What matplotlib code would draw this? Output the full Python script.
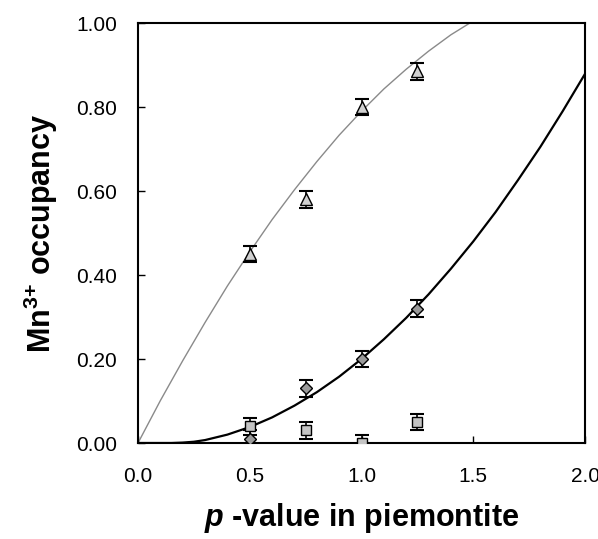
import matplotlib
matplotlib.use('Agg')
import matplotlib.pyplot as plt
from matplotlib.ticker import FormatStrFormatter

plt.rcParams['font.family'] = ['Liberation Sans', 'DejaVu Sans']
plt.rcParams['mathtext.fontset'] = 'custom'
plt.rcParams['mathtext.rm'] = 'Liberation Sans'
plt.rcParams['mathtext.bf'] = 'Liberation Sans:bold'
plt.rcParams['mathtext.it'] = 'Liberation Sans:italic'
plt.rcParams['mathtext.bfit'] = 'Liberation Sans:bold:italic'

# measured occupancies
p_values = [0.5, 0.75, 1.0, 1.25]
tri_y = [0.45, 0.58, 0.80, 0.885]
dia_y = [0.01, 0.13, 0.20, 0.32]
sq_y = [0.04, 0.03, 0.00, 0.05]
err = [0.02, 0.02, 0.02, 0.02]

# model curves
gray_x = [0.0, 0.1, 0.2, 0.3, 0.4, 0.5, 0.6, 0.7, 0.8, 0.9, 1.0, 1.1, 1.2, 1.3, 1.4, 1.5]
gray_y = [0.0, 0.101, 0.196, 0.287, 0.374, 0.455, 0.532, 0.603, 0.670, 0.733, 0.790,
          0.843, 0.890, 0.933, 0.972, 1.005]
black_x = [0.0, 0.1, 0.15, 0.2, 0.25, 0.3, 0.4, 0.5, 0.6, 0.7, 0.8, 0.9, 1.0, 1.1, 1.2,
           1.3, 1.4, 1.5, 1.6, 1.7, 1.8, 1.9, 2.0]
black_y = [0.0, 0.0, 0.0, 0.001, 0.003, 0.007, 0.020, 0.038, 0.061, 0.089, 0.121, 0.158,
           0.200, 0.247, 0.298, 0.354, 0.415, 0.480, 0.550, 0.626, 0.705, 0.790, 0.879]

fig = plt.figure(figsize=(5.98, 5.39), dpi=100)
ax = fig.add_axes([0.2308, 0.1781, 0.7475, 0.7792])

ax.plot(gray_x, gray_y, color='#8a8a8a', lw=1.0, zorder=2)
ax.plot(black_x, black_y, color='black', lw=1.6, zorder=2)

# error bars + markers
for ys, mk, fc, ms in [(tri_y, '^', '#d0d0d0', 8),
                       (dia_y, 'D', '#9a9a9a', 6.5),
                       (sq_y, 's', '#c4c4c4', 7)]:
    ax.errorbar(p_values, ys, yerr=err, fmt='none', ecolor='black',
                elinewidth=1.2, capsize=5, capthick=1.5, zorder=3)
    ax.plot(p_values, ys, linestyle='none', marker=mk, markersize=ms,
            markerfacecolor=fc, markeredgecolor='black', markeredgewidth=1.0,
            zorder=4)

ax.set_xlim(0, 2.0)
ax.set_ylim(0, 1.0)
ax.set_xticks([0.0, 0.5, 1.0, 1.5, 2.0])
ax.set_yticks([0.0, 0.2, 0.4, 0.6, 0.8, 1.0])
ax.xaxis.set_major_formatter(FormatStrFormatter('%.1f'))
ax.yaxis.set_major_formatter(FormatStrFormatter('%.2f'))
ax.tick_params(direction='in', length=5, width=1, labelsize=15, pad=17)
ax.tick_params(axis='y', pad=15)
for s in ax.spines.values():
    s.set_linewidth(1.5)

ax.set_xlabel(r'$\bfit{p}$ -value in piemontite', fontsize=22, fontweight='bold',
              labelpad=11)
ax.set_ylabel(r'Mn$^{\mathbf{3{+}}}$ occupancy', fontsize=22, fontweight='bold',
              labelpad=12)

fig.savefig('out.png', dpi=100)
